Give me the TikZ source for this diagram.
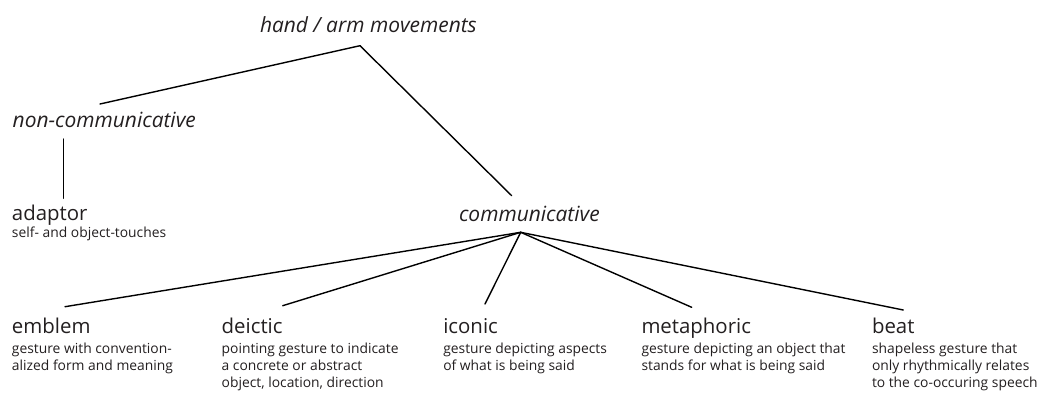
\documentclass[tikz,border=0pt]{standalone}
\usepackage{fontspec}
\setmainfont{Open Sans}
\definecolor{ink}{HTML}{231F20}
\newlength\calw
\newlength\calx
\newcommand\itsize{\fontsize{\itpt}{\itpt}\selectfont\itshape}
\newcommand\ttlsize{\fontsize{\ttlpt}{\ttlpt}\selectfont}
\newcommand\dscsize{\fontsize{\dscpt}{17pt}\selectfont}
\tikzset{
  lbl/.style={inner sep=0pt, outer sep=0pt, text=ink, anchor=base west},
  ital/.style={lbl, font=\itsize},
  ttl/.style={lbl, font=\ttlsize},
  dsc/.style={lbl, font=\dscsize},
  conn/.style={draw=black, line width=1.4pt, line cap=round}
}
\begin{document}
\settowidth{\calw}{\fontsize{10}{12}\selectfont\itshape communicative}%
\settowidth{\calx}{\fontsize{10}{12}\selectfont\itshape non-communicative}%
\addtolength{\calw}{\calx}%
\settowidth{\calx}{\fontsize{10}{12}\selectfont\itshape hand / arm movements}%
\addtolength{\calw}{\calx}%
\pgfmathsetmacro\itpt{10*540.6/\calw}%
\settowidth{\calw}{\fontsize{10}{12}\selectfont metaphoric}%
\pgfmathsetmacro\ttlpt{10*109.5/\calw}%
\settowidth{\calw}{\fontsize{10}{12}\selectfont gesture depicting an object that}%
\pgfmathsetmacro\dscpt{10*204/\calw}%
\begin{tikzpicture}[x=1pt,y=-1pt]
\useasboundingbox (0,0) rectangle (1055,394);

% level labels
\node[ital] (root) at (260,32) {hand / arm movements};
\node[ital] (noncomm) at (12.7,127) {non-communicative};
\node[ital] (comm) at (459,221.7) {communicative};

% leaves
\node[ttl] (adaptor) at (12,220) {adaptor};
\node[dsc] (adaptord) at (12,237.8) {self- and object-touches};

\node[ttl] (emblem) at (12,333.3) {emblem};
\node[dsc] (emblemd) at (12,353.3) {\begin{tabular}[t]{@{}l@{}}gesture with convention-\\alized form and meaning\end{tabular}};
\node[ttl] (deictic) at (221.7,333.3) {deictic};
\node[dsc] (deicticd) at (221.7,353.3) {\begin{tabular}[t]{@{}l@{}}pointing gesture to indicate\\a concrete or abstract\\object, location, direction\end{tabular}};
\node[ttl] (iconic) at (443.3,333.3) {iconic};
\node[dsc] (iconicd) at (443.3,353.3) {\begin{tabular}[t]{@{}l@{}}gesture depicting aspects\\of what is being said\end{tabular}};
\node[ttl] (metaphoric) at (641.5,333.3) {metaphoric};
\node[dsc] (metaphoricd) at (641.5,353.3) {\begin{tabular}[t]{@{}l@{}}gesture depicting an object that\\stands for what is being said\end{tabular}};
\node[ttl] (beat) at (872,333.3) {beat};
\node[dsc] (beatd) at (872,353.3) {\begin{tabular}[t]{@{}l@{}}shapeless gesture that\\only rhythmically relates\\to the co-occuring speech\end{tabular}};

% connector end points
\coordinate (rootj) at (360,45.7);
\coordinate (noncommt) at (100,104);
\coordinate (noncommb) at (63.3,139);
\coordinate (adaptort) at (63.3,198.3);
\coordinate (commt) at (511.7,195.7);
\coordinate (commj) at (520.7,232.3);
\coordinate (emblemt) at (65,306.7);
\coordinate (deictict) at (282.7,305.7);
\coordinate (iconict) at (485,304);
\coordinate (metaphorict) at (691.7,307.3);
\coordinate (beatt) at (903.3,310);

\draw[conn] (rootj) -- (noncommt);
\draw[conn] (rootj) -- (commt);
\draw[conn] (noncommb) -- (adaptort);
\foreach \t in {emblemt,deictict,iconict,metaphorict,beatt}
  \draw[conn] (commj) -- (\t);
\end{tikzpicture}
\end{document}
